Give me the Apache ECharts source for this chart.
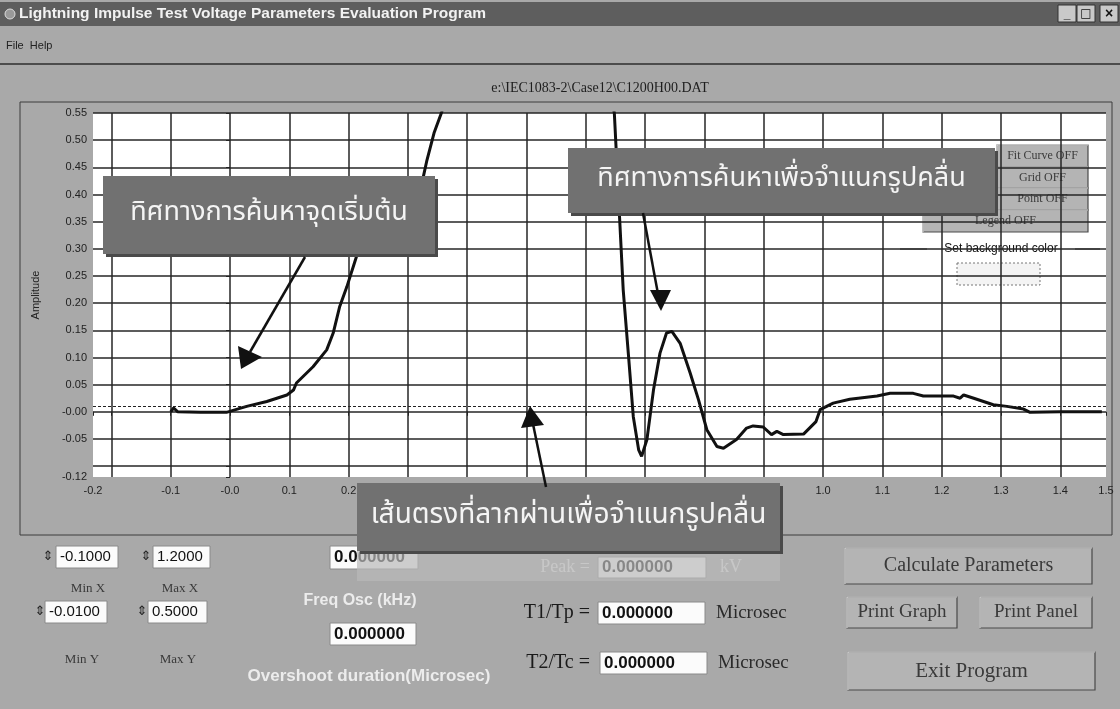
<!DOCTYPE html>
<html>
<head>
<meta charset="utf-8">
<title>Lightning Impulse Test Voltage Parameters Evaluation Program</title>
<script src="https://cdn.jsdelivr.net/npm/echarts@6.0.0/dist/echarts.min.js"></script>
<style>
  html, body { margin: 0; padding: 0; background: #a9a9a9; }
  #chart { width: 1120px; height: 709px; }
</style>
</head>
<body>
<div id="chart"></div>
<script>
// recorded impulse, time in microseconds / amplitude (normalised)
const timeUs = [
  -0.100, -0.095, -0.088, -0.050, -0.006, 0.028, 0.062, 0.096, 0.107, 0.112,
  0.140, 0.163, 0.174, 0.185, 0.197, 0.213, 0.230, 0.260, 0.295, 0.326,
  0.332, 0.344, 0.357, 0.380, 0.450, 0.550, 0.630, 0.648, 0.663, 0.672,
  0.680, 0.689, 0.694, 0.703, 0.714, 0.725, 0.736, 0.745, 0.759, 0.776,
  0.790, 0.804, 0.821, 0.832, 0.854, 0.871, 0.882, 0.899, 0.913, 0.922,
  0.933, 0.967, 0.988, 0.995, 1.017, 1.045, 1.091, 1.113, 1.152, 1.169,
  1.220, 1.231, 1.237, 1.254, 1.287, 1.310, 1.338, 1.349, 1.400, 1.470
];
const amplitude = [
  0.000, 0.007, 0.000, -0.001, -0.001, 0.010, 0.019, 0.031, 0.040, 0.053,
  0.083, 0.114, 0.145, 0.194, 0.230, 0.285, 0.328, 0.368, 0.400, 0.433,
  0.463, 0.513, 0.552, 0.650, 0.800, 0.800, 0.650, 0.550, 0.224, 0.102,
  -0.009, -0.070, -0.082, -0.051, 0.040, 0.108, 0.145, 0.148, 0.126, 0.071,
  0.022, -0.033, -0.064, -0.067, -0.051, -0.030, -0.026, -0.028, -0.042, -0.036,
  -0.042, -0.041, -0.018, 0.004, 0.016, 0.023, 0.029, 0.034, 0.034, 0.029,
  0.029, 0.025, 0.031, 0.025, 0.013, 0.010, 0.005, -0.001, 0.000, 0.000
];

// dotted line dragged across the trace
const crossingLevel = 0.012;

// axis ranges as set in the program
const xRange = [-0.231, 1.477];
const yRange = [-0.12, 0.55];

const fileName = "e:\\IEC1083-2\\Case12\\C1200H00.DAT";
const callouts = [
  "ทิศทางการค้นหาจุดเริ่มต้น",
  "ทิศทางการค้นหาเพื่อจำแนกรูปคลื่น",
  "เส้นตรงที่ลากผ่านเพื่อจำแนกรูปคลื่น"
];
const toggleButtons = ["Fit Curve OFF", "Grid OFF", "Point OFF", "Legend OFF"];

const chart = echarts.init(document.getElementById("chart"));

const uiFont = "'Liberation Sans', Arial, sans-serif";
const serifFont = "'Liberation Serif', 'Times New Roman', serif";
const thaiFont = "'Noto Sans Thai', 'Noto Sans', 'DejaVu Sans', sans-serif";

function inputBox(x, y, w, h, value, bold) {
  return [
    { type: "rect", shape: { x: x, y: y, width: w, height: h }, style: { fill: "#fbfbfb", stroke: "#8a8a8a", lineWidth: 1 } },
    { type: "text", x: x + 4, y: y + h / 2, style: { text: value, fill: "#111", font: bold ? "bold 17px " + uiFont : "15px " + uiFont, verticalAlign: "middle" } }
  ];
}

function spinner(x, y) {
  return { type: "text", x: x, y: y, style: { text: "⇕", fill: "#222", font: "13px 'DejaVu Sans'", verticalAlign: "middle", align: "center" } };
}

function button(x, y, w, h, label, size) {
  return [
    { type: "rect", shape: { x: x, y: y, width: w, height: h }, style: { fill: "#b4b4b4", stroke: "#4a4a4a", lineWidth: 1.2 } },
    { type: "polyline", shape: { points: [[x, y + h], [x, y], [x + w, y]] }, style: { stroke: "#e2e2e2", lineWidth: 1.2 } },
    { type: "text", x: x + w / 2, y: y + h / 2, style: { text: label, fill: "#3a3a3a", font: (size || 14) + "px " + serifFont, align: "center", verticalAlign: "middle" } }
  ];
}

function callout(x, y, w, h, label, size) {
  return [
    { type: "rect", z: 100, shape: { x: x + 3, y: y + 3, width: w, height: h }, style: { fill: "#4a4a4a" } },
    { type: "rect", z: 101, shape: { x: x, y: y, width: w, height: h }, style: { fill: "#717171" } },
    { type: "text", z: 102, x: x + w / 2, y: y + h / 2, style: { text: label, fill: "#f4f4f4", font: size + "px " + thaiFont, align: "center", verticalAlign: "middle" } }
  ];
}

function arrow(from, to, head) {
  return [
    { type: "line", z: 103, shape: { x1: from[0], y1: from[1], x2: to[0], y2: to[1] }, style: { stroke: "#111", lineWidth: 2.5 } },
    { type: "polygon", z: 103, shape: { points: head }, style: { fill: "#111" } }
  ];
}

function label(x, y, text, font, fill, align) {
  return { type: "text", x: x, y: y, style: { text: text, fill: fill, font: font, align: align || "center", verticalAlign: "middle" } };
}

const graphics = [].concat(
  // window title bar and menu
  [
    { type: "rect", shape: { x: 0, y: 2, width: 1120, height: 24 }, style: { fill: "#5e5e5e" } },
    { type: "circle", shape: { cx: 10, cy: 14, r: 5 }, style: { fill: "#9a9a9a", stroke: "#ddd" } },
    label(19, 14, "Lightning Impulse Test Voltage Parameters Evaluation Program", "bold 15.5px " + uiFont, "#f2f2f2", "left"),
    { type: "rect", shape: { x: 1058, y: 5, width: 18, height: 17 }, style: { fill: "#c9c9c9", stroke: "#333" } },
    { type: "rect", shape: { x: 1077, y: 5, width: 18, height: 17 }, style: { fill: "#c9c9c9", stroke: "#333" } },
    { type: "rect", shape: { x: 1100, y: 5, width: 18, height: 17 }, style: { fill: "#c9c9c9", stroke: "#333" } },
    label(1067, 15, "_", "bold 12px " + uiFont, "#111"),
    label(1086, 14, "□", "12px 'DejaVu Sans'", "#111"),
    label(1109, 14, "×", "bold 14px " + uiFont, "#111"),
    label(6, 46, "File  Help", "11px " + uiFont, "#222", "left"),
    { type: "line", shape: { x1: 0, y1: 64, x2: 1120, y2: 64 }, style: { stroke: "#2e2e2e", lineWidth: 1.5 } },
    label(600, 88, fileName, "14px " + serifFont, "#1e1e1e"),
    { type: "rect", shape: { x: 20, y: 102, width: 1092, height: 433 }, style: { fill: "none", stroke: "#3c3c3c", lineWidth: 1 } }
  ],
  // series toggles and background colour group inside the plot
  button(997, 145, 91, 22, toggleButtons[0], 12),
  button(997, 167, 91, 21, toggleButtons[1], 12),
  button(997, 188, 91, 22, toggleButtons[2], 12),
  button(923, 210, 165, 22, toggleButtons[3], 12),
  [
    { type: "line", shape: { x1: 900, y1: 249, x2: 927, y2: 249 }, style: { stroke: "#333", lineWidth: 1 } },
    { type: "line", shape: { x1: 1075, y1: 249, x2: 1100, y2: 249 }, style: { stroke: "#333", lineWidth: 1 } },
    { type: "text", x: 1001, y: 249, style: { text: "Set background color", fill: "#111", font: "12px " + uiFont, align: "center", verticalAlign: "middle", backgroundColor: "#fff", padding: [1, 2] } },
    { type: "rect", shape: { x: 957, y: 263, width: 83, height: 22 }, style: { fill: "#f4f4f4", stroke: "#777", lineDash: [2, 2] } }
  ],
  // limits panel
  [spinner(48, 557)], inputBox(56, 546, 62, 22, "-0.1000"),
  [spinner(146, 557)], inputBox(153, 546, 57, 22, "1.2000"),
  [spinner(40, 612)], inputBox(45, 601, 62, 22, "-0.0100"),
  [spinner(142, 612)], inputBox(148, 601, 59, 22, "0.5000"),
  [
    label(88, 589, "Min X", "13px " + serifFont, "#3a3a3a"),
    label(180, 589, "Max X", "13px " + serifFont, "#3a3a3a"),
    label(82, 660, "Min Y", "13px " + serifFont, "#3a3a3a"),
    label(178, 660, "Max Y", "13px " + serifFont, "#3a3a3a")
  ],
  // oscillation results
  inputBox(330, 546, 88, 23, "0.000000", true),
  inputBox(330, 623, 86, 22, "0.000000", true),
  [
    label(360, 601, "Freq Osc (kHz)", "bold 16px " + uiFont, "#ececec"),
    label(369, 676, "Overshoot duration(Microsec)", "bold 17px " + uiFont, "#ececec")
  ],
  // front / tail results
  [
    label(590, 567, "Peak =", "18px " + serifFont, "#e8e8e8", "right"),
    label(720, 567, "kV", "18px " + serifFont, "#e8e8e8", "left"),
    label(590, 613, "T1/Tp =", "20px " + serifFont, "#1a1a1a", "right"),
    label(716, 613, "Microsec", "19px " + serifFont, "#2a2a2a", "left"),
    label(590, 663, "T2/Tc =", "20px " + serifFont, "#1a1a1a", "right"),
    label(718, 663, "Microsec", "19px " + serifFont, "#2a2a2a", "left")
  ],
  inputBox(598, 557, 108, 21, "0.000000", true),
  inputBox(598, 602, 107, 22, "0.000000", true),
  inputBox(600, 652, 107, 22, "0.000000", true),
  button(845, 548, 247, 36, "Calculate Parameters", 20),
  button(847, 597, 110, 31, "Print Graph", 19),
  button(980, 597, 112, 31, "Print Panel", 19),
  button(848, 652, 247, 38, "Exit Program", 21),
  // translucent shade under the lower callout
  [{ type: "rect", z: 99, shape: { x: 357, y: 551, width: 423, height: 30 }, style: { fill: "rgba(185,185,185,0.7)" } }],
  // callouts and their arrows
  callout(103, 176, 332, 78, callouts[0], 27),
  callout(568, 148, 427, 65, callouts[1], 27),
  callout(357, 483, 423, 68, callouts[2], 28),
  arrow([305, 257], [250, 352], [[241, 369], [238, 346], [262, 357]]),
  arrow([643, 213], [658, 294], [[661, 311], [650, 290], [671, 290]]),
  arrow([546, 487], [533, 424], [[530, 406], [521, 428], [544, 425]])
);

const options = {
  backgroundColor: "#a9a9a9",
  animation: false,
  grid: {
    left: 93,
    right: 14,
    top: 113,
    bottom: 232,
    show: true,
    backgroundColor: "#ffffff",
    borderWidth: 0
  },
  xAxis: {
    type: "value",
    min: xRange[0],
    max: xRange[1],
    splitNumber: 17,
    axisLine: { show: false },
    axisTick: { show: true, length: 4, lineStyle: { color: "#222" } },
    axisLabel: {
      showMinLabel: true,
      showMaxLabel: true,
      color: "#222",
      fontFamily: "Liberation Sans",
      fontSize: 11,
      margin: 8,
      formatter: (v) => {
        if (Math.abs(v + 0.2) < 1e-9) return "";
        if (Math.abs(v) < 1e-9) return "-0.0";
        return v.toFixed(1);
      }
    },
    splitLine: {
      show: true,
      showMinLine: false,
      showMaxLine: false,
      lineStyle: { color: "#262626", width: 1.5 }
    }
  },
  yAxis: {
    type: "value",
    min: yRange[0],
    max: yRange[1],
    splitNumber: 13,
    name: "Amplitude",
    nameLocation: "middle",
    nameRotate: 90,
    nameGap: 52,
    nameTextStyle: { color: "#222", fontFamily: "Liberation Sans", fontSize: 11 },
    axisLine: { show: false },
    axisTick: { show: true, length: 4, lineStyle: { color: "#222" } },
    axisLabel: {
      showMinLabel: true,
      showMaxLabel: true,
      color: "#222",
      fontFamily: "Liberation Sans",
      fontSize: 11,
      margin: 6,
      formatter: (v) => {
        if (Math.abs(v + 0.1) < 1e-9) return "";
        if (Math.abs(v) < 1e-9) return "-0.00";
        return v.toFixed(2);
      }
    },
    splitLine: {
      show: true,
      showMinLine: false,
      lineStyle: { color: "#262626", width: 1.5 }
    }
  },
  series: [
    {
      name: "Impulse",
      type: "line",
      data: timeUs.map((t, i) => [t, amplitude[i]]),
      showSymbol: false,
      clip: true,
      lineStyle: { color: "#111111", width: 3 },
      markLine: {
        silent: true,
        symbol: "none",
        label: { show: false },
        lineStyle: { color: "#222", width: 1, type: [3, 2] },
        data: [{ yAxis: crossingLevel }]
      }
    }
  ],
  graphic: graphics
};

chart.setOption(options);
window.addEventListener("resize", () => chart.resize());
</script>
</body>
</html>
